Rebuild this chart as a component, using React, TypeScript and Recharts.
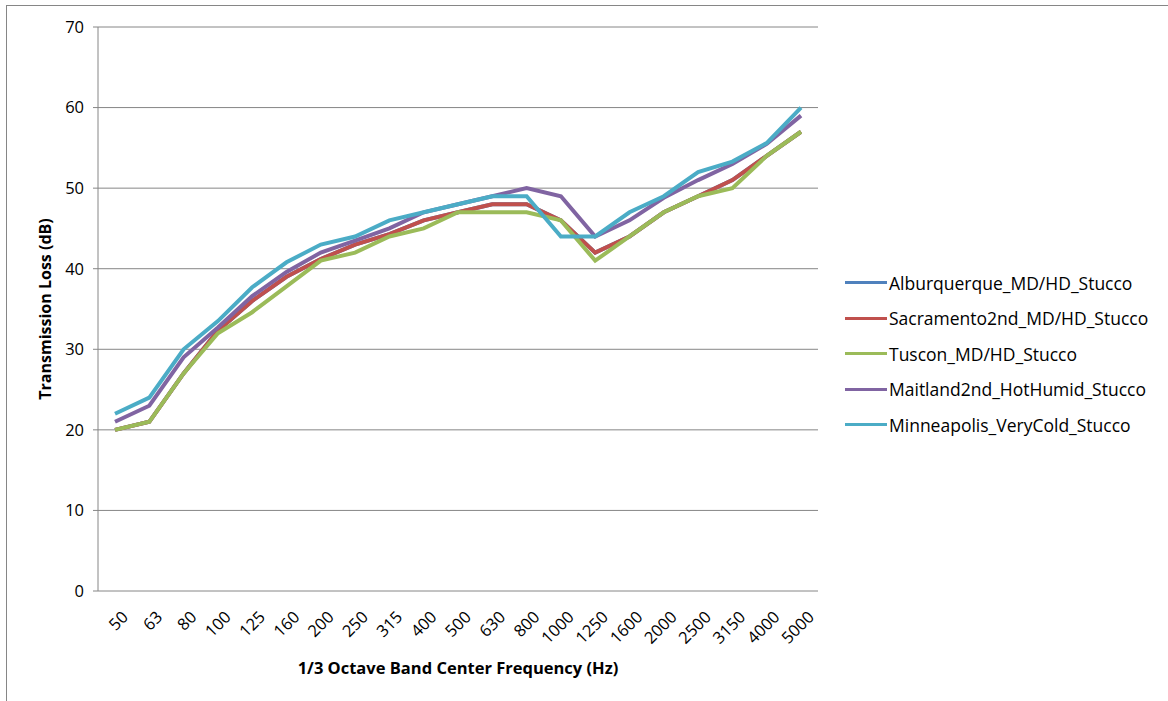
import { LineChart, Line, XAxis, YAxis, CartesianGrid, Legend } from "recharts";

const frequencies = [
  "50", "63", "80", "100", "125", "160", "200", "250", "315", "400", "500",
  "630", "800", "1000", "1250", "1600", "2000", "2500", "3150", "4000", "5000",
];

// blue series sits underneath the others in the original
const alburquerque = [20, 21, 27, 32.3, 36, 39, 41.2, 43, 44.3, 46, 47, 48, 48, 46, 42, 44, 47, 49, 51, 54, 57];
const sacramento = [20, 21, 27, 32.3, 36, 39, 41.2, 43, 44.3, 46, 47, 48, 48, 46, 42, 44, 47, 49, 51, 54, 57];
const tuscon = [20, 21, 27, 32, 34.6, 37.8, 41, 42, 44, 45, 47, 47, 47, 46, 41, 44, 47, 49, 50, 54, 57];
const maitland = [21, 23, 29, 32.7, 36.6, 39.6, 42, 43.5, 45, 47, 48, 49, 50, 49, 44, 46, 48.8, 51, 53, 55.5, 59];
const minneapolis = [22, 24, 30, 33.5, 37.7, 40.8, 43, 44, 46, 47, 48, 49, 49, 44, 44, 47, 49, 52, 53.3, 55.6, 60];

const yTicks = [0, 10, 20, 30, 40, 50, 60, 70];
const boundaryTicks = Array.from({ length: frequencies.length + 1 }, (_, i) => i);

const series = [
  { key: "alb", name: "Alburquerque_MD/HD_Stucco", color: "#4F81BD", values: alburquerque },
  { key: "sac", name: "Sacramento2nd_MD/HD_Stucco", color: "#C0504D", values: sacramento },
  { key: "tus", name: "Tuscon_MD/HD_Stucco", color: "#9BBB59", values: tuscon },
  { key: "mai", name: "Maitland2nd_HotHumid_Stucco", color: "#8064A2", values: maitland },
  { key: "min", name: "Minneapolis_VeryCold_Stucco", color: "#4BACC6", values: minneapolis },
];

const data = frequencies.map((f, i) => {
  const row: Record<string, string | number> = { freq: f };
  series.forEach((s) => (row[s.key] = s.values[i]));
  return row;
});

const FONT = "'Open Sans', 'DejaVu Sans', sans-serif";
const GRID = "#868686";
const LEGEND_W = 320;

function FreqTick({ x, y, payload }: { x: number; y: number; payload: { value: string } }) {
  return (
    <g transform={`translate(${x + 10},${y + 15})`}>
      <text transform="rotate(-45)" textAnchor="end" dy="0.35em" fontSize={16.5} fill="#000" fontFamily={FONT}>
        {payload.value}
      </text>
    </g>
  );
}

function LegendBox() {
  return (
    <div style={{ fontFamily: FONT, fontSize: 17.5, color: "#000" }}>
      {series.map((s) => (
        <div key={s.key} style={{ display: "flex", alignItems: "center", height: 35.5 }}>
          <span style={{ display: "inline-block", width: 42, height: 3, background: s.color, marginRight: 2 }} />
          <span style={{ whiteSpace: "nowrap" }}>{s.name}</span>
        </div>
      ))}
    </div>
  );
}

export default function App() {
  return (
    <div style={{ position: "absolute", left: 0, top: 0, width: 1168, height: 701, background: "#fff", overflow: "hidden" }}>
      <div style={{ position: "absolute", left: 6, top: 5, right: 0, bottom: 0, borderTop: `1px solid ${GRID}`, borderLeft: `1px solid ${GRID}` }} />
      <LineChart width={1168} height={701} data={data} margin={{ top: 27, right: 350 - LEGEND_W, left: 38, bottom: 20 }}>
        <CartesianGrid vertical={false} stroke={GRID} strokeWidth={1} />
        <XAxis
          xAxisId="b"
          type="number"
          domain={[0, frequencies.length]}
          ticks={boundaryTicks}
          tick={() => null}
          height={0}
          tickSize={6}
          stroke={GRID}
        />
        <XAxis
          xAxisId="cat"
          dataKey="freq"
          axisLine={false}
          tickLine={false}
          interval={0}
          height={90}
          padding={{ left: 17, right: 17 }}
          tick={FreqTick}
          label={{
            value: "1/3 Octave Band Center Frequency (Hz)",
            position: "center",
            dy: 32,
            style: { fontFamily: FONT, fontSize: 16.5, fontWeight: 700, fill: "#000" },
          }}
        />
        <YAxis
          width={60}
          domain={[0, 70]}
          ticks={yTicks}
          tickSize={5}
          tickMargin={9}
          stroke={GRID}
          tick={{ fontFamily: FONT, fontSize: 16.5, fill: "#000" }}
          label={{
            value: "Transmission Loss (dB)",
            angle: -90,
            position: "center",
            dx: -23,
            style: { fontFamily: FONT, fontSize: 16, fontWeight: 700, fill: "#000", textAnchor: "middle" },
          }}
        />
        <Legend
          layout="vertical"
          align="right"
          verticalAlign="middle"
          content={<LegendBox />}
          wrapperStyle={{ position: "absolute", left: 845, top: 265, width: LEGEND_W }}
        />
        {series.map((s) => (
          <Line
            key={s.key}
            xAxisId="cat"
            dataKey={s.key}
            name={s.name}
            stroke={s.color}
            strokeWidth={4}
            dot={false}
            isAnimationActive={false}
          />
        ))}
      </LineChart>
    </div>
  );
}
